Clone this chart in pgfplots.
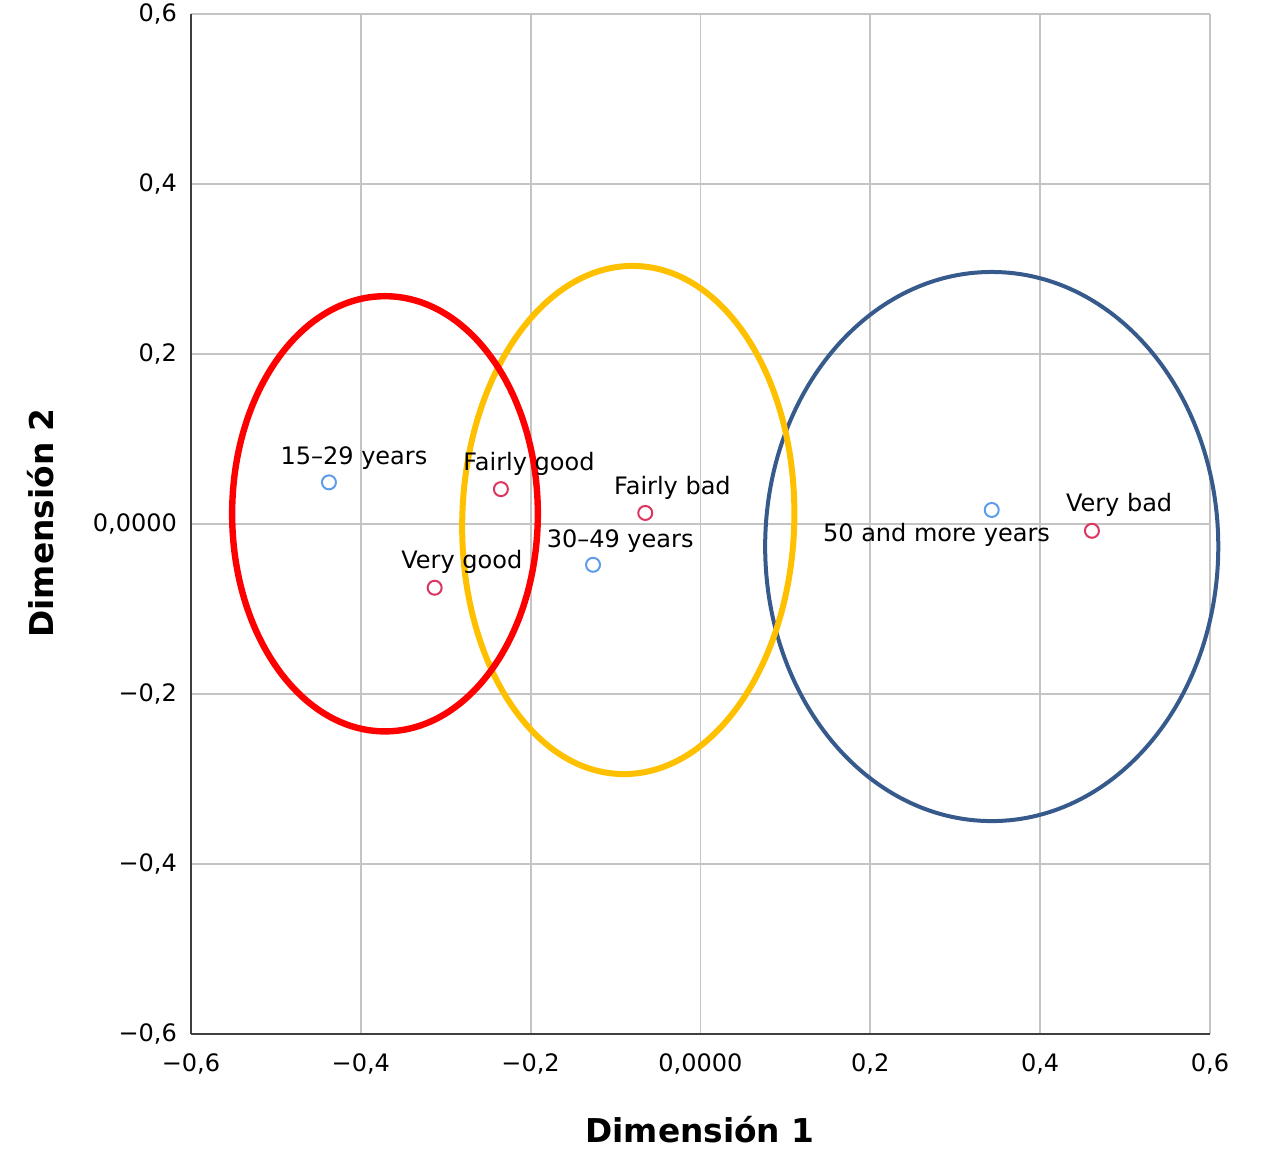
\documentclass[border=0pt]{standalone}
\usepackage{pgfplots}
\pgfplotsset{compat=1.18}
\usepackage{fontspec}
\setmainfont{DejaVu Sans}
\definecolor{ptblue}{HTML}{5E9CEB}
\definecolor{ptred}{HTML}{DC3560}
\definecolor{ellred}{HTML}{FF0000}
\definecolor{ellyel}{HTML}{FFC000}
\definecolor{ellblue}{HTML}{365A8C}
\definecolor{gridgray}{HTML}{C4C4C4}
\begin{document}
\begin{tikzpicture}
\begin{axis}[
  scale only axis,
  width=509.5pt, height=510pt,
  xmin=-0.6, xmax=0.6, ymin=-0.6, ymax=0.6,
  xtick={-0.6,-0.4,-0.2,0,0.2,0.4,0.6},
  ytick={-0.6,-0.4,-0.2,0,0.2,0.4,0.6},
  xticklabels={{−0,6},{−0,4},{−0,2},{0,0000},{0,2},{0,4},{0,6}},
  yticklabels={{−0,6},{−0,4},{−0,2},{0,0000},{0,2},{0,4},{0,6}},
  ticklabel style={font=\fontsize{12}{14}\selectfont},
  xticklabel style={yshift=-6.5pt},
  yticklabel style={xshift=-3.5pt},
  major tick length=0pt,
  axis x line*=bottom, axis y line*=left,
  axis line style={draw=black!75, line width=0.9pt, -},
  grid=major,
  major grid style={draw=gridgray, line width=0.9pt},
  clip=false,
  xlabel={\textbf{Dimensión 1}},
  ylabel={\textbf{Dimensión 2}},
  xlabel style={font=\fontsize{16.4}{18}\selectfont, at={(rel axis cs:0.4995,-0.106)}, anchor=base},
  ylabel style={font=\fontsize{16.4}{18}\selectfont, at={(rel axis cs:-0.148,0.501)}, anchor=center, rotate=0},
]
% ellipses
\draw[ellblue, line width=2pt] (axis cs:0.343,-0.0265) ellipse [x radius=0.2668, y radius=0.323];
\draw[ellyel, line width=3pt, rotate around={-1.7:(axis cs:-0.085,0.0047)}] (axis cs:-0.085,0.0047) ellipse [x radius=0.1955, y radius=0.299];
\draw[ellred, line width=3.2pt] (axis cs:-0.3715,0.012) ellipse [x radius=0.180, y radius=0.256];
% age categories
\addplot[only marks, mark=o, mark size=3.5pt, ptblue, line width=1pt] coordinates {
  (-0.4375,0.049) (-0.1265,-0.048) (0.343,0.0165)
};
% health categories
\addplot[only marks, mark=o, mark size=3.5pt, ptred, line width=1pt] coordinates {
  (-0.235,0.041) (-0.065,0.013) (-0.313,-0.075) (0.461,-0.008)
};
\node[font=\fontsize{12}{14}\selectfont, anchor=center] at (axis cs:-0.408,0.077) {15–29 years};
\node[font=\fontsize{12}{14}\selectfont, anchor=center] at (axis cs:-0.0945,-0.020) {30–49 years};
\node[font=\fontsize{12}{14}\selectfont, anchor=center] at (axis cs:0.278,-0.013) {50 and more years};
\node[font=\fontsize{12}{14}\selectfont, anchor=center] at (axis cs:-0.202,0.071) {Fairly good};
\node[font=\fontsize{12}{14}\selectfont, anchor=center] at (axis cs:-0.033,0.043) {Fairly bad};
\node[font=\fontsize{12}{14}\selectfont, anchor=center] at (axis cs:-0.281,-0.045) {Very good};
\node[font=\fontsize{12}{14}\selectfont, anchor=center] at (axis cs:0.493,0.023) {Very bad};
\coordinate (bl) at (rel axis cs:-0.1874,-0.1118);
\coordinate (tr) at (rel axis cs:1.0501,1.0137);
\end{axis}
\pgfresetboundingbox
\path[use as bounding box] (bl) rectangle (tr);
\end{tikzpicture}
\end{document}
